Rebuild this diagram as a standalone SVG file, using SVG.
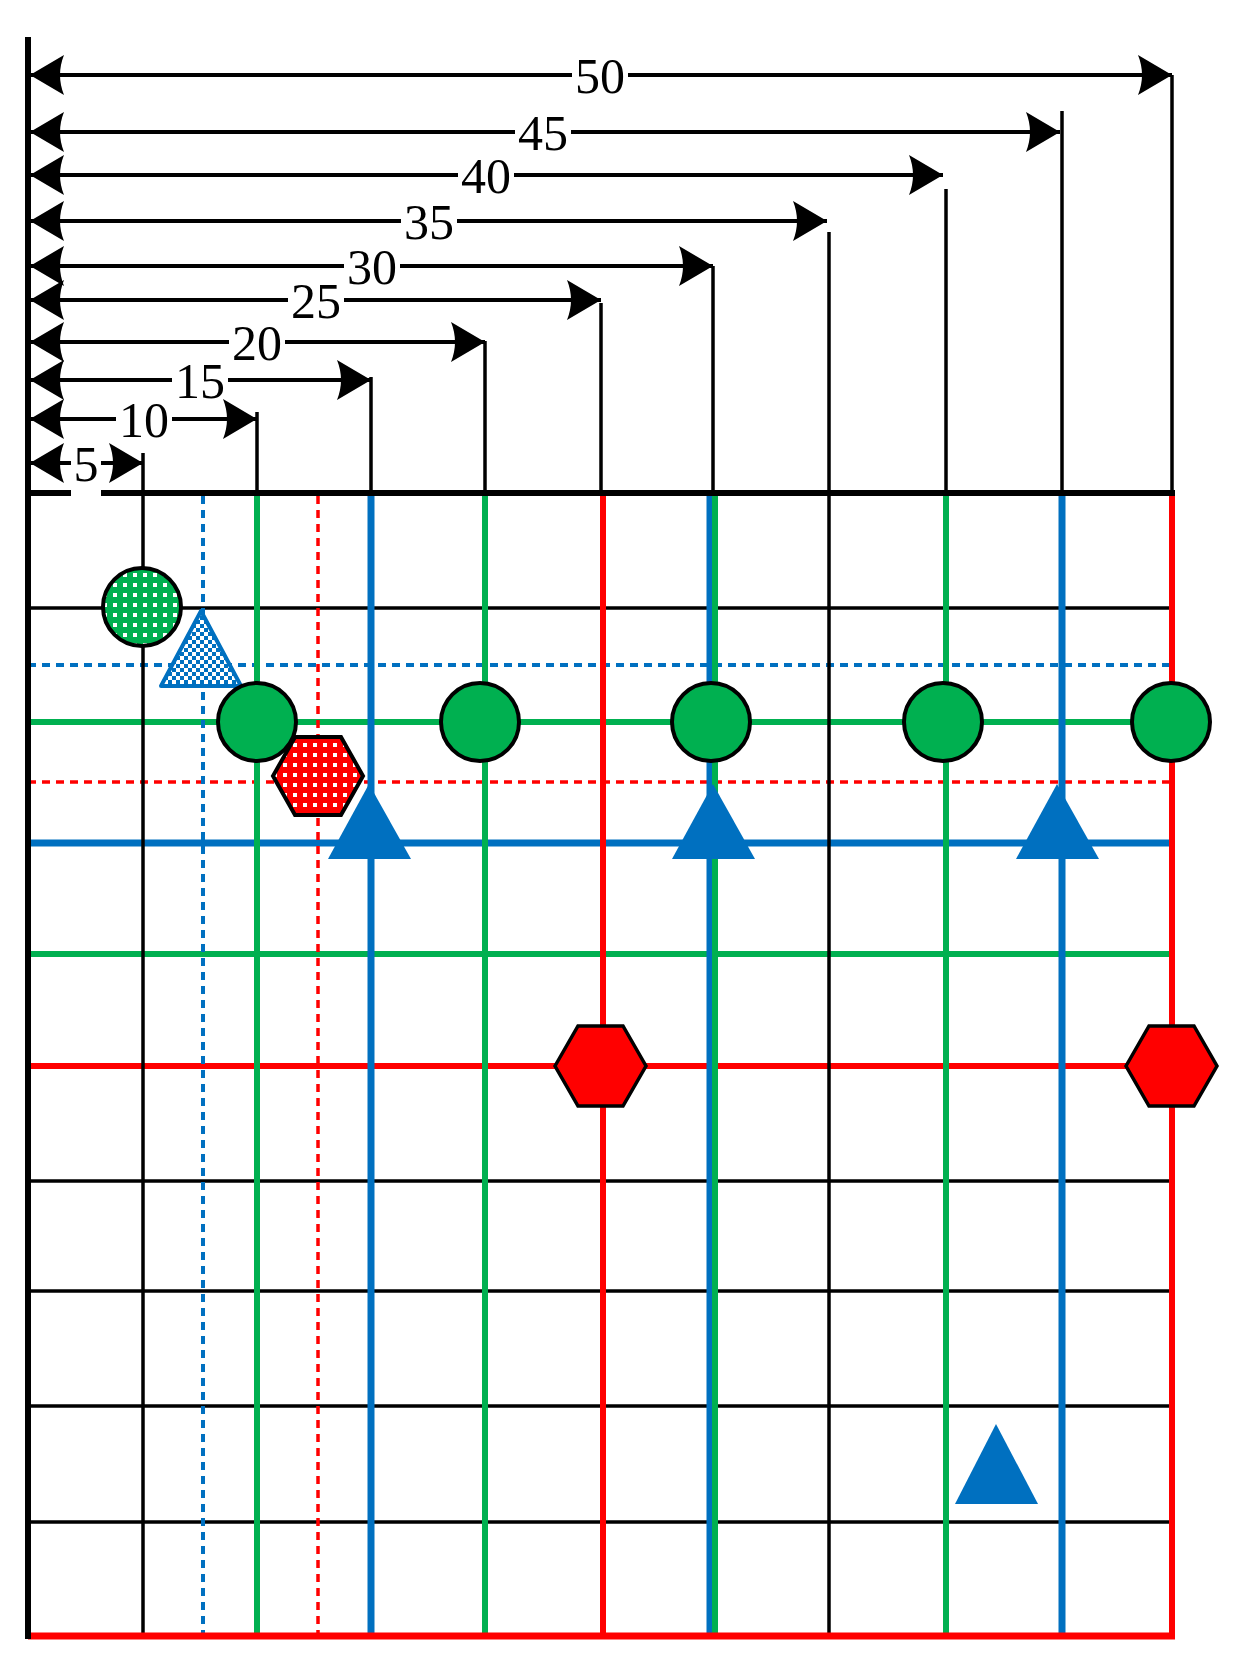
<svg xmlns="http://www.w3.org/2000/svg" width="1239" height="1661" viewBox="0 0 1239 1661">
<defs>
<style>
.k{stroke:#000;stroke-width:3.5;fill:none}
.g{stroke:#00B050;stroke-width:6;fill:none}
.b{stroke:#0070C0;stroke-width:7;fill:none}
.r{stroke:#FF0000;stroke-width:6;fill:none}
.bd{stroke:#0070C0;stroke-width:4;stroke-dasharray:8 6;fill:none}
.rd{stroke:#FF0000;stroke-width:3.5;stroke-dasharray:8 6;fill:none}
.dim{stroke:#000;stroke-width:4;fill:none;marker-start:url(#ah);marker-end:url(#ah)}
.lbl{font-family:"Liberation Serif",serif;font-size:50px;text-anchor:middle;fill:#000}
.bg{fill:#fff}
</style>
<marker id="ah" viewBox="0 0 34 40" refX="34" refY="20" markerWidth="34" markerHeight="40" markerUnits="userSpaceOnUse" orient="auto-start-reverse">
<path d="M0,0 L34,20 L0,40 Q8,20 0,0 Z" fill="#000"/>
</marker>
<pattern id="gdots" width="10" height="10" patternUnits="userSpaceOnUse">
<rect width="10" height="10" fill="#00B050"/><rect x="3" y="3" width="4" height="4" fill="#fff"/>
</pattern>
<pattern id="rdots" width="10" height="10" patternUnits="userSpaceOnUse">
<rect width="10" height="10" fill="#FF0000"/><rect x="3" y="3" width="4" height="4" fill="#fff"/>
</pattern>
<pattern id="bchk" width="8" height="8" patternUnits="userSpaceOnUse">
<rect width="8" height="8" fill="#fff"/><rect width="4" height="4" fill="#0070C0"/><rect x="4" y="4" width="4" height="4" fill="#0070C0"/>
</pattern>
</defs>
<rect width="1239" height="1661" fill="#fff"/>
<g id="connectors">
<line class="k" x1="28" y1="608" x2="1171" y2="608"/>
<line class="bd" x1="28" y1="665" x2="1171" y2="665"/>
<line class="g" x1="28" y1="722" x2="1171" y2="722"/>
<line class="rd" x1="28" y1="782" x2="1171" y2="782"/>
<line class="b" x1="28" y1="843" x2="1171" y2="843"/>
<line class="g" x1="28" y1="954" x2="1171" y2="954"/>
<line class="r" x1="28" y1="1066" x2="1171" y2="1066"/>
<line class="k" x1="28" y1="1181" x2="1171" y2="1181"/>
<line class="k" x1="28" y1="1291" x2="1171" y2="1291"/>
<line class="k" x1="28" y1="1406" x2="1171" y2="1406"/>
<line class="k" x1="28" y1="1522" x2="1171" y2="1522"/>
<line class="k" x1="143" y1="453" x2="143" y2="1636"/>
<line class="bd" x1="203" y1="496" x2="203" y2="1636"/>
<line class="k" x1="257" y1="412" x2="257" y2="493"/>
<line class="g" x1="257" y1="493" x2="257" y2="1636"/>
<line class="rd" x1="318" y1="496" x2="318" y2="1636"/>
<line class="k" x1="371" y1="377" x2="371" y2="493"/>
<line class="b" x1="371" y1="493" x2="371" y2="1636"/>
<line class="k" x1="485" y1="341" x2="485" y2="493"/>
<line class="g" x1="485" y1="493" x2="485" y2="1636"/>
<line class="k" x1="601" y1="303" x2="601" y2="493"/>
<line class="r" x1="603" y1="493" x2="603" y2="1636"/>
<line class="k" x1="713" y1="266" x2="713" y2="493"/>
<line class="b" x1="710" y1="493" x2="710" y2="1636"/>
<line class="g" x1="715" y1="493" x2="715" y2="1636"/>
<line class="k" x1="829" y1="232" x2="829" y2="1636"/>
<line class="k" x1="946" y1="189" x2="946" y2="493"/>
<line class="g" x1="946" y1="493" x2="946" y2="1636"/>
<line class="k" x1="1062" y1="111" x2="1062" y2="493"/>
<line class="b" x1="1062" y1="493" x2="1062" y2="1636"/>
<line class="k" x1="1172" y1="75" x2="1172" y2="493"/>
<line class="r" x1="1172" y1="493" x2="1172" y2="1636"/>
<line stroke="#FF0000" stroke-width="7" x1="28" y1="1636" x2="1175" y2="1636"/>
<line stroke="#000" stroke-width="6" x1="28" y1="493" x2="1175" y2="493"/>
<line stroke="#000" stroke-width="6" x1="28" y1="37" x2="28" y2="1639"/>
<line class="dim" x1="30" y1="75" x2="1172" y2="75"/>
<line class="dim" x1="30" y1="132" x2="1060" y2="132"/>
<line class="dim" x1="30" y1="175" x2="943" y2="175"/>
<line class="dim" x1="30" y1="221" x2="827" y2="221"/>
<line class="dim" x1="30" y1="266" x2="713" y2="266"/>
<line class="dim" x1="30" y1="300" x2="601" y2="300"/>
<line class="dim" x1="30" y1="342" x2="485" y2="342"/>
<line class="dim" x1="30" y1="380" x2="371" y2="380"/>
<line class="dim" x1="30" y1="419" x2="257" y2="419"/>
<line class="dim" x1="30" y1="463" x2="143" y2="463"/>
</g>
<g id="labels">
<rect class="bg" x="572" y="57" width="56" height="36"/><text class="lbl" x="600" y="93">50</text>
<rect class="bg" x="515" y="114" width="56" height="36"/><text class="lbl" x="543" y="150">45</text>
<rect class="bg" x="458" y="157" width="56" height="36"/><text class="lbl" x="486" y="193">40</text>
<rect class="bg" x="401" y="203" width="56" height="36"/><text class="lbl" x="429" y="239">35</text>
<rect class="bg" x="344" y="248" width="56" height="36"/><text class="lbl" x="372" y="284">30</text>
<rect class="bg" x="288" y="282" width="56" height="36"/><text class="lbl" x="316" y="318">25</text>
<rect class="bg" x="229" y="324" width="56" height="36"/><text class="lbl" x="257" y="360">20</text>
<rect class="bg" x="172" y="362" width="56" height="36"/><text class="lbl" x="200" y="398">15</text>
<rect class="bg" x="116" y="401" width="56" height="36"/><text class="lbl" x="144" y="437">10</text>
<rect class="bg" x="71" y="445" width="30" height="52"/><text class="lbl" x="86" y="481">5</text>
</g>
<g id="node-dotted-circle"><circle cx="142" cy="607" r="39" fill="url(#gdots)" stroke="#000" stroke-width="4"/></g>
<g id="node-check-triangle"><polygon points="201,611 241,686 161,686" fill="url(#bchk)" stroke="#0070C0" stroke-width="4" stroke-linejoin="round"/></g>
<g id="node-circle-1"><circle cx="257" cy="722" r="39" fill="#00B050" stroke="#000" stroke-width="4"/></g>
<g id="node-circle-2"><circle cx="480" cy="722" r="39" fill="#00B050" stroke="#000" stroke-width="4"/></g>
<g id="node-circle-3"><circle cx="711" cy="722" r="39" fill="#00B050" stroke="#000" stroke-width="4"/></g>
<g id="node-circle-4"><circle cx="943" cy="722" r="39" fill="#00B050" stroke="#000" stroke-width="4"/></g>
<g id="node-circle-5"><circle cx="1171" cy="722" r="39" fill="#00B050" stroke="#000" stroke-width="4"/></g>
<g id="node-dotted-hexagon"><polygon points="273,776 295,737 341,737 363,776 341,815 295,815" fill="url(#rdots)" stroke="#000" stroke-width="4"/></g>
<g id="node-triangle-1"><polygon points="369,784 411,859 328,859" fill="#0070C0"/></g>
<g id="node-triangle-2"><polygon points="713,784 755,859 672,859" fill="#0070C0"/></g>
<g id="node-triangle-3"><polygon points="1057,784 1099,859 1016,859" fill="#0070C0"/></g>
<g id="node-triangle-4"><polygon points="996,1424 1038,1504 955,1504" fill="#0070C0"/></g>
<g id="node-hexagon-1"><polygon points="555,1066 578,1026 623,1026 646,1066 623,1106 578,1106" fill="#FF0000" stroke="#000" stroke-width="3.5"/></g>
<g id="node-hexagon-2"><polygon points="1126,1066 1149,1026 1194,1026 1217,1066 1194,1106 1149,1106" fill="#FF0000" stroke="#000" stroke-width="3.5"/></g>
</svg>
